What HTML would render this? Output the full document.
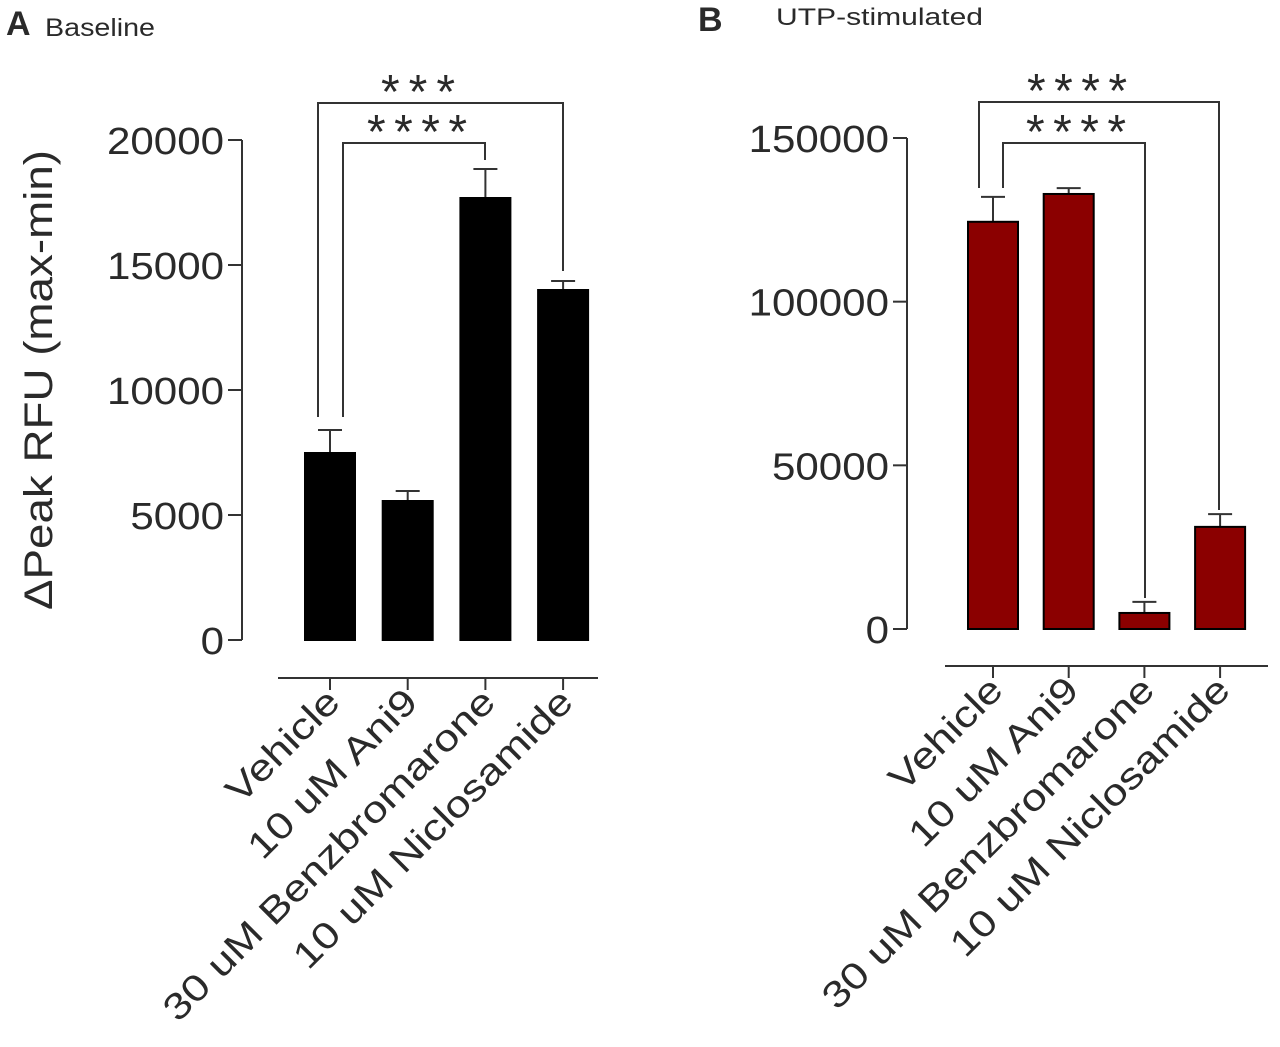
<!DOCTYPE html>
<html><head><meta charset="utf-8"><style>
body{margin:0;background:#fff}
svg text{font-family:"Liberation Sans","DejaVu Sans",sans-serif;fill:#2a2a2a}
</style></head><body>
<svg id="s" width="1280" height="1042" xmlns="http://www.w3.org/2000/svg">
<text x="6" y="35" font-size="34" font-weight="bold">A</text>
<text x="45" y="36" font-size="25" textLength="110" lengthAdjust="spacingAndGlyphs">Baseline</text>
<text x="698" y="31" font-size="34" font-weight="bold">B</text>
<text x="776" y="25" font-size="24" textLength="207" lengthAdjust="spacingAndGlyphs">UTP-stimulated</text>
<text transform="translate(52,380) rotate(-90)" text-anchor="middle" font-size="40" textLength="460" lengthAdjust="spacingAndGlyphs">ΔPeak RFU (max-min)</text>
</svg>
<script>
const categories=["Vehicle","10 uM Ani9","30 uM Benzbromarone","10 uM Niclosamide"];
const valuesA=[7480,5560,17680,14000];
const errorsA=[920,400,1160,360];
const ticksA=[0,5000,10000,15000,20000];
const valuesB=[124400,132900,4900,31200];
const errorsB=[7600,1800,3400,3900];
const ticksB=[0,50000,100000,150000];
const NS="http://www.w3.org/2000/svg",svg=document.getElementById('s');
function mk(t,a,txt){const e=document.createElementNS(NS,t);for(const k in a)e.setAttribute(k,a[k]);if(txt!==undefined)e.textContent=txt;svg.appendChild(e);return e;}
function panel(p){
  const y=v=>p.y0-(v-0)/p.max*(p.y0-p.yTop);
  const ax=mk('line',{x1:p.ax,x2:p.ax,y1:p.yTop,y2:p.y0,stroke:'#333','stroke-width':2});
  
  
  p.ticks.forEach(t=>{
    const l=mk('line',{x1:p.ax-14,x2:p.ax,y1:y(t),y2:y(t),stroke:'#333','stroke-width':2});
    
    
    const s=String(t);
    const tx=mk('text',{x:p.ax-18,y:y(t)+14,'text-anchor':'end','font-size':38,textLength:s.length*23.4,lengthAdjust:'spacingAndGlyphs'},s);
    
    
  });
  const xa=mk('line',{x1:p.xa1,x2:p.xa2,y1:p.xaY,y2:p.xaY,stroke:'#333','stroke-width':2});
  
  
  p.vals.forEach((v,i)=>{
    const cx=p.c0+i*p.step;
    const eb=mk('path',{d:`M${cx},${y(v)}V${y(v+p.errs[i])}M${cx-12},${y(v+p.errs[i])}H${cx+12}`,stroke:'#333','stroke-width':2,fill:'none'});
    
    
    const r=mk('rect',{x:cx-25,y:y(v),width:50,height:y(0)-y(v),fill:p.fill,stroke:'#000','stroke-width':2});
    
    
    const tk=mk('line',{x1:cx,x2:cx,y1:p.xaY,y2:p.xaY+12,stroke:'#333','stroke-width':2});
    
    
    const lb=mk('text',{transform:`translate(${cx+12},${p.xaY+26}) rotate(-45)`,'text-anchor':'end','font-size':37},categories[i]);
    
    
    lb.setAttribute('textLength',(lb.getComputedTextLength()*1.2).toFixed(1));
    lb.setAttribute('lengthAdjust','spacingAndGlyphs');
  });
  p.br.forEach(b=>{
    const pa=mk('path',{d:`M${b[0]},${b[3]}V${b[2]}H${b[1]}V${b[4]}`,stroke:'#333','stroke-width':2,fill:'none'});
    
    
    const n=b[5].length;
    const st=mk('text',{x:b[6],y:b[2]+5,'text-anchor':'middle','font-size':48,textLength:n*26-4,lengthAdjust:'spacing'},b[5]);
    
    
  });
}
panel({id:'a',ax:242,y0:640,yTop:140,max:20000,ticks:ticksA,vals:valuesA,errs:errorsA,c0:330,step:77.7,fill:'#000',xa1:278,xa2:598,xaY:678,
 br:[[318,563,103,417,271,'***',418],[343,485,143,417,160,'****',417]]});
panel({id:'b',ax:907,y0:629,yTop:138,max:150000,ticks:ticksB,vals:valuesB,errs:errorsB,c0:993,step:75.7,fill:'#8b0000',xa1:945,xa2:1268,xaY:666,
 br:[[979,1219,102,188,510,'****',1077],[1003,1145,143,188,598,'****',1076]]});
</script>
</body></html>
